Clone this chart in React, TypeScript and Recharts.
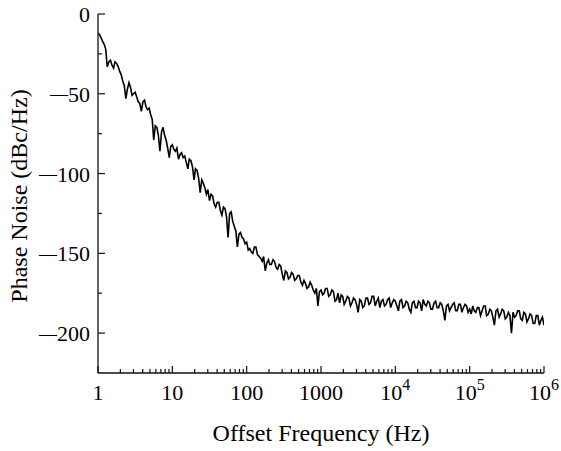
import { LineChart, Line, XAxis, YAxis } from "recharts";

const FONT = '"Liberation Serif", "Times New Roman", Times, serif';

// frequency grid: E48 mantissas repeated over each decade, plus the 1 MHz end point
const DECADES = [1, 10, 100, 1000, 10000, 100000];
const MANTISSAS = [
  1.0, 1.05, 1.1, 1.15, 1.21, 1.27, 1.33, 1.4, 1.47, 1.54, 1.62, 1.69,
  1.78, 1.87, 1.96, 2.05, 2.15, 2.26, 2.37, 2.49, 2.61, 2.74, 2.87, 3.01,
  3.16, 3.32, 3.48, 3.65, 3.83, 4.02, 4.22, 4.42, 4.64, 4.87, 5.11, 5.36,
  5.62, 5.9, 6.19, 6.49, 6.81, 7.15, 7.5, 7.87, 8.25, 8.66, 9.09, 9.53,
];

// phase noise (dBc/Hz), one list per decade
const PN_1HZ = [
  -12, -13, -15, -17, -19, -22, -33, -30, -29, -32, -34, -30,
  -31, -33, -36, -38, -42, -45, -53, -47, -43, -46, -51, -50,
  -49, -52, -55, -56, -61, -55, -54, -58, -60, -59, -63, -66,
  -79, -70, -71, -76, -86, -74, -71, -76, -79, -84, -90, -83,
];
const PN_10HZ = [
  -82, -85, -86, -84, -91, -88, -87, -90, -89, -93, -97, -91,
  -92, -96, -104, -97, -98, -103, -112, -104, -106, -109, -113, -110,
  -117, -113, -114, -119, -121, -118, -118, -123, -126, -121, -122, -127,
  -140, -125, -124, -130, -133, -136, -146, -138, -137, -140, -141, -144,
];
const PN_100HZ = [
  -143, -148, -147, -149, -150, -146, -146, -151, -152, -153, -155, -152,
  -161, -156, -154, -157, -157, -154, -155, -159, -160, -157, -158, -163,
  -167, -161, -162, -166, -165, -162, -163, -167, -166, -164, -164, -168,
  -170, -167, -169, -172, -171, -168, -170, -173, -175, -172, -183, -174,
];
const PN_1KHZ = [
  -173, -176, -175, -172, -172, -177, -176, -173, -174, -180, -179, -175,
  -181, -176, -177, -182, -180, -177, -178, -183, -181, -178, -179, -182,
  -187, -179, -180, -184, -183, -178, -178, -182, -181, -177, -177, -183,
  -180, -178, -184, -180, -179, -183, -182, -179, -178, -184, -181, -179,
];
const PN_10KHZ = [
  -180, -183, -186, -180, -179, -184, -183, -180, -181, -185, -187, -181,
  -180, -184, -184, -180, -181, -186, -179, -182, -183, -180, -181, -185,
  -185, -181, -180, -184, -184, -181, -182, -186, -192, -183, -182, -186,
  -184, -182, -181, -186, -186, -182, -182, -187, -184, -182, -183, -187,
];
const PN_100KHZ = [
  -185, -188, -183, -186, -187, -184, -184, -189, -186, -183, -183, -189,
  -188, -185, -186, -190, -195, -186, -185, -190, -188, -185, -186, -191,
  -190, -187, -189, -200, -187, -190, -189, -186, -186, -191, -192, -187,
  -188, -193, -191, -188, -189, -194, -194, -189, -189, -195, -192, -190,
];
const PN_END = -195;

const X_MAJOR = [1, 10, 100, 1000, 10000, 100000, 1000000];
const X_LABEL = ["1", "10", "100", "1000", "10", "10", "10"];
const X_EXP = ["", "", "", "", "4", "5", "6"];
const MINOR_STEPS = [2, 3, 4, 5, 6, 7, 8, 9];
const Y_MAJOR = [0, -50, -100, -150, -200];
const Y_MINOR = [-25, -75, -125, -175];

const decadeValues = [PN_1HZ, PN_10HZ, PN_100HZ, PN_1KHZ, PN_10KHZ, PN_100KHZ];
const data: { f: number; pn: number }[] = [];
DECADES.forEach((d, i) => {
  MANTISSAS.forEach((m, j) => data.push({ f: m * d, pn: decadeValues[i][j] }));
});
data.push({ f: 1000000, pn: PN_END });

const xMinor: number[] = [];
DECADES.forEach((d) => MINOR_STEPS.forEach((s) => xMinor.push(s * d)));

const INK = "#111";

function XTick({ x, y, payload }: any) {
  const i = X_MAJOR.indexOf(payload.value);
  const major = i >= 0;
  return (
    <g>
      <line x1={x} x2={x} y1={y} y2={y - (major ? 7 : 4)} stroke={INK} strokeWidth={1.2} />
      {major && (
        <text x={x} y={y + 27} textAnchor="middle" fontFamily={FONT} fontSize={22} fill="#000">
          {X_LABEL[i]}
          {X_EXP[i] && (
            <tspan dy={-10} fontSize={16}>
              {X_EXP[i]}
            </tspan>
          )}
        </text>
      )}
    </g>
  );
}

function YTick({ x, y, payload }: any) {
  const major = Y_MAJOR.includes(payload.value);
  const v = payload.value;
  return (
    <g>
      <line x1={x} x2={x + (major ? 7 : 4)} y1={y} y2={y} stroke={INK} strokeWidth={1.2} />
      {major && (
        <text x={x - 8} y={y + 8} textAnchor="end" fontFamily={FONT} fontSize={22} fill="#000">
          {v < 0 ? (
            <>
              <tspan fontSize={18} dy={-1.5}>{"\u2014"}</tspan>
              <tspan dy={1.5}>{String(-v)}</tspan>
            </>
          ) : (
            String(v)
          )}
        </text>
      )}
    </g>
  );
}

export default function App() {
  return (
    <div style={{ position: "absolute", left: 0, top: 0, width: 561, height: 451, background: "#fff" }}>
      <LineChart width={561} height={451} data={data} margin={{ top: 14, right: 17, bottom: 48, left: 38 }}>
        <XAxis
          dataKey="f"
          type="number"
          scale="log"
          domain={[1, 1000000]}
          allowDataOverflow
          ticks={[...X_MAJOR, ...xMinor]}
          interval={0}
          tickSize={0}
          tickMargin={0}
          tickLine={false}
          tick={<XTick />}
          height={30}
          axisLine={{ stroke: INK, strokeWidth: 1.3 }}
        />
        <XAxis xAxisId="top" orientation="top" dataKey="f" type="number" scale="log" domain={[1, 1000000]} allowDataOverflow tick={false} tickLine={false} height={0} axisLine={{ stroke: "#444", strokeWidth: 1.3 }} />
        <YAxis
          type="number"
          domain={[-225, 0]}
          allowDataOverflow
          ticks={[...Y_MAJOR, ...Y_MINOR]}
          interval={0}
          tickSize={0}
          tickMargin={0}
          tickLine={false}
          tick={<YTick />}
          width={60}
          axisLine={{ stroke: INK, strokeWidth: 1.3 }}
        />
        <YAxis yAxisId="right" orientation="right" type="number" domain={[-225, 0]} tick={false} tickLine={false} width={0} axisLine={{ stroke: INK, strokeWidth: 1.3 }} />
        <Line type="linear" dataKey="pn" stroke="#000" strokeWidth={1.6} dot={false} isAnimationActive={false} />
      </LineChart>
      <div
        style={{
          position: "absolute",
          left: 321,
          top: 421,
          transform: "translateX(-50%)",
          fontFamily: FONT,
          fontSize: 24,
          lineHeight: 1,
          whiteSpace: "nowrap",
          color: "#000",
        }}
      >
        Offset Frequency (Hz)
      </div>
      <div
        style={{
          position: "absolute",
          left: 19,
          top: 196,
          transform: "translate(-50%, -50%) rotate(-90deg)",
          fontFamily: FONT,
          fontSize: 24,
          lineHeight: 1,
          whiteSpace: "nowrap",
          color: "#000",
        }}
      >
        Phase Noise (dBc/Hz)
      </div>
    </div>
  );
}
